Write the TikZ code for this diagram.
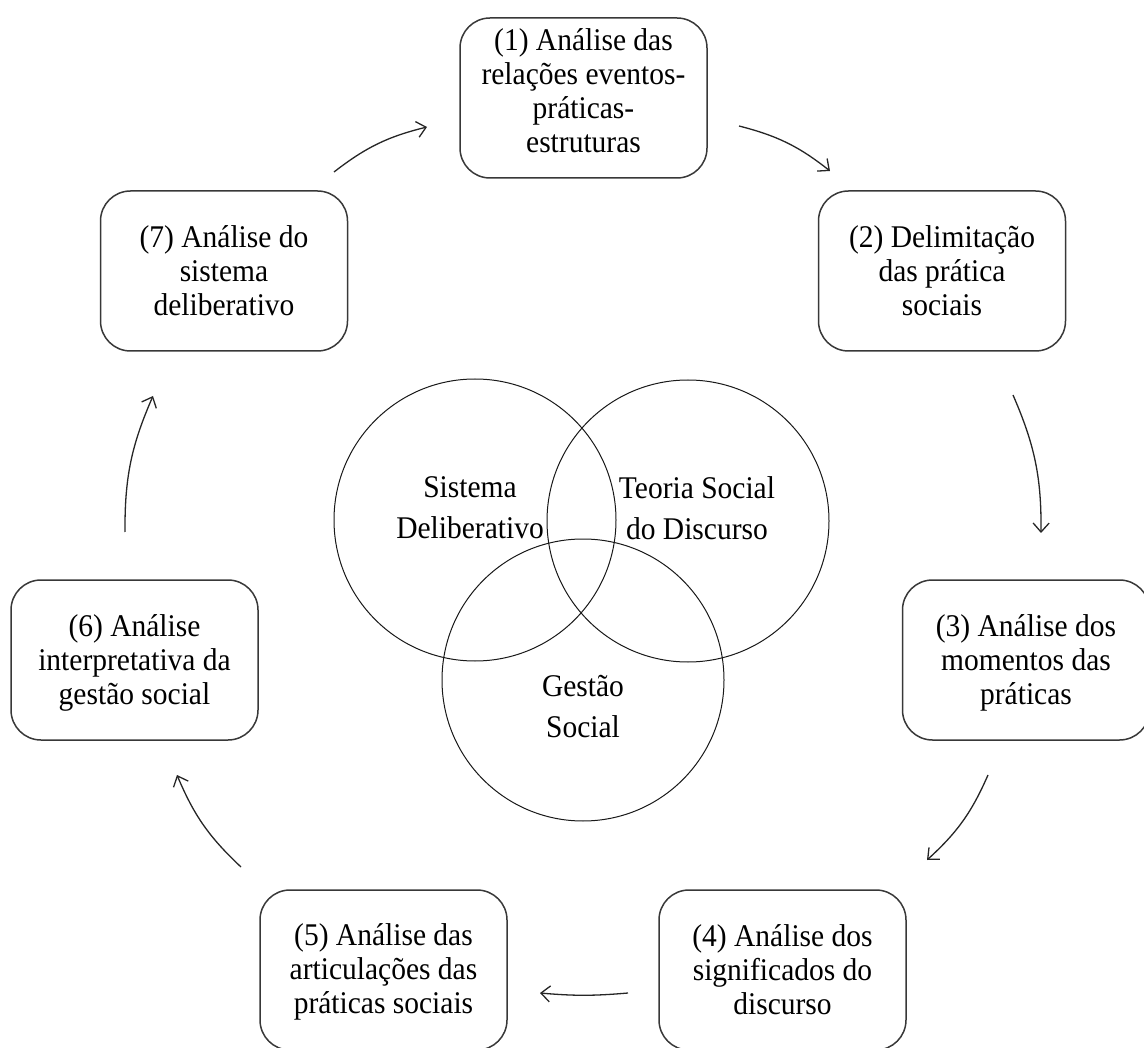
\documentclass[tikz,border=0pt]{standalone}
\usepackage{fontspec}
\setmainfont{Liberation Serif}
\usetikzlibrary{arrows.meta}
\begin{document}
\begin{tikzpicture}[x=1pt,y=-1pt,
  stepbox/.style={draw=black!78, line width=1.5pt, rounded corners=30pt,
    minimum width=247pt, minimum height=160pt, inner sep=0pt},
  steptext/.style={align=center, inner sep=0pt, yscale=1.07, transform shape,
    font=\fontsize{29.5}{31.9}\selectfont},
  venn/.style={draw=black!90, line width=1pt, circle, minimum size=282pt, inner sep=0pt},
  venntext/.style={align=center, inner sep=0pt, yscale=1.07, transform shape,
    font=\fontsize{29.5}{38.3}\selectfont},
  flow/.style={draw=black!85, line width=1.3pt,
    -{Straight Barb[length=9pt,width=16pt]}}]
\useasboundingbox (0,0) rectangle (1144,1048);

% central Venn diagram
\node[venn] (cSD) at (475,520) {};
\node[venn] (cTS) at (688,521) {};
\node[venn] (cGS) at (583,680) {};
\node[venntext] (tSD) at (470,508) {Sistema\\Deliberativo};
\node[venntext] (tTS) at (697,508) {Teoria Social\\do Discurso};
\node[venntext] (tGS) at (583,706.5) {Gestão\\Social};

% the seven analysis steps
\node[stepbox] (b1) at (583.5,98) {};
\node[stepbox] (b2) at (942,271) {};
\node[stepbox] (b3) at (1026,660) {};
\node[stepbox] (b4) at (782.5,970) {};
\node[stepbox] (b5) at (383.5,970) {};
\node[stepbox] (b6) at (134.5,660) {};
\node[stepbox] (b7) at (224,271) {};

\node[steptext] (t1) at (583.5,90.5) {(1) Análise das\\relações eventos-\\práticas-\\estruturas};
\node[steptext] (t2) at (942,270.5) {(2) Delimitação\\das prática\\sociais};
\node[steptext] (t3) at (1026,662.6) {(3) Análise dos\\momentos das\\práticas};
\node[steptext] (t4) at (782.5,969.5) {(4) Análise dos\\significados do\\discurso};
\node[steptext] (t5) at (383.5,971.6) {(5) Análise das\\articulações das\\práticas sociais};
\node[steptext] (t6) at (134.5,662.6) {(6) Análise\\interpretativa da\\gestão social};
\node[steptext] (t7) at (224,270.5) {(7) Análise do\\sistema\\deliberativo};

% arrow ends around the cycle
\coordinate (a1s) at (334,172); \coordinate (a1e) at (427,127);
\coordinate (a2s) at (739,126); \coordinate (a2e) at (830,171);
\coordinate (a3s) at (1013,395); \coordinate (a3e) at (1041,533);
\coordinate (a4s) at (988,775); \coordinate (a4e) at (927,860);
\coordinate (a5s) at (628,993); \coordinate (a5e) at (540,993);
\coordinate (a6s) at (241,867); \coordinate (a6e) at (177,775);
\coordinate (a7s) at (125,532); \coordinate (a7e) at (153,396);

\draw[flow] (a1s) to[bend left=12] (a1e);
\draw[flow] (a2s) to[bend left=12] (a2e);
\draw[flow] (a3s) to[bend left=12] (a3e);
\draw[flow] (a4s) to[bend left=12] (a4e);
\draw[flow] (a5s) to[bend left=5] (a5e);
\draw[flow] (a6s) to[bend left=12] (a6e);
\draw[flow] (a7s) to[bend left=12] (a7e);
\end{tikzpicture}
\end{document}
